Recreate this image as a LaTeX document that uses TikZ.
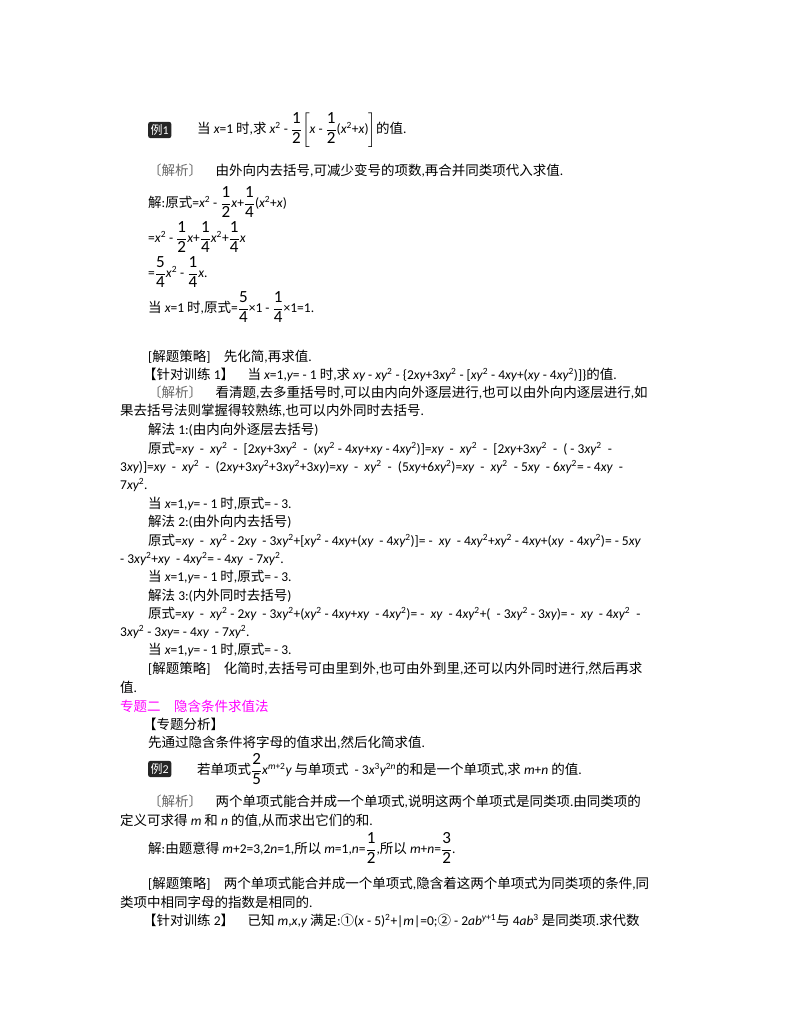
\documentclass[tikz,border=0pt]{standalone}
\usepackage{amsmath}
\usepackage{fontspec}
\setmainfont{Carlito}
\newfontfamily\cjk{Noto Sans CJK SC}
\newfontfamily\latin{Carlito}
\XeTeXinterchartokenstate=1
\newXeTeXintercharclass\CJKclass
\count255="4E00
\loop\XeTeXcharclass\count255=\CJKclass\ifnum\count255<"9FFF\advance\count255 1\repeat
\count255="3000
\loop\XeTeXcharclass\count255=\CJKclass\ifnum\count255<"303F\advance\count255 1\repeat
\count255="FF00
\loop\XeTeXcharclass\count255=\CJKclass\ifnum\count255<"FFEF\advance\count255 1\repeat
\count255="2460
\loop\XeTeXcharclass\count255=\CJKclass\ifnum\count255<"24FF\advance\count255 1\repeat
\XeTeXinterchartoks 0 \CJKclass = {\cjk}
\XeTeXinterchartoks 4095 \CJKclass = {\cjk}
\XeTeXinterchartoks \CJKclass 0 = {\latin}
\XeTeXinterchartoks \CJKclass 4095 = {\latin}
\newcommand\iv[1]{{\itshape #1}}
\newcommand\sq{\textsuperscript{2}}
\newcommand\fr[2]{\ensuremath{\genfrac{}{}{0.5pt}{0}{\hbox{\fontsize{17}{17}\selectfont #1}}{\hbox{\fontsize{17}{17}\selectfont #2}}}}
\definecolor{mag}{HTML}{FF00FF}
\tikzset{t/.style={anchor=west,inner sep=0pt,font=\fontsize{13.5}{16}\selectfont},
badge/.style={fill=black!85,rounded corners=2pt,text=white,inner sep=2.5pt,font=\fontsize{12}{14}\selectfont,anchor=west}}
\begin{document}
\begin{tikzpicture}[x=1pt,y=-1pt]
\useasboundingbox (0,0) rectangle (800,1028);
\node[badge] (b1) at (148,130) {例1};
\node[t] (l1) at (197,130) {当 \iv{x}=1 时,求 \iv{x}\sq\ - \fr{1}{2}$\left[\hbox{\iv{x} - }\fr{1}{2}\hbox{(\iv{x}\sq+\iv{x})}\right]$的值.};
\node[t] (l2) at (148,171) {{\color{black!60}〔解析〕}\quad 由外向内去括号,可减少变号的项数,再合并同类项代入求值.};
\node[t] (l3) at (148,202) {解:原式=\iv{x}\sq\ - \fr{1}{2}\iv{x}+\fr{1}{4}(\iv{x}\sq+\iv{x})};
\node[t] (l4) at (148,237) {=\iv{x}\sq\ - \fr{1}{2}\iv{x}+\fr{1}{4}\iv{x}\sq+\fr{1}{4}\iv{x}};
\node[t] (l5) at (148,272) {=\fr{5}{4}\iv{x}\sq\ - \fr{1}{4}\iv{x}.};
\node[t] (l6) at (148,307) {当 \iv{x}=1 时,原式=\fr{5}{4}×1 - \fr{1}{4}×1=1.};
\node[t] (l7) at (148,357) {[解题策略]\quad 先化简,再求值.};
\node[t] (l8) at (143,375) {【针对训练 1】\quad 当 \iv{x}=1,\iv{y}= - 1 时,求 \iv{xy} - \iv{xy}\sq\ - \{2\iv{xy}+3\iv{xy}\sq\ - [\iv{xy}\sq\ - 4\iv{xy}+(\iv{xy} - 4\iv{xy}\sq)]\}的值.};
\node[t] (l9) at (148,393) {{\color{black!60}〔解析〕}\quad 看清题,去多重括号时,可以由内向外逐层进行,也可以由外向内逐层进行,如};
\node[t] (l10) at (120,411) {果去括号法则掌握得较熟练,也可以内外同时去括号.};
\node[t] (l11) at (148,430) {解法 1:(由内向外逐层去括号)};
\node[t] (l12) at (148,449) {原式=\iv{xy} \ - \ \iv{xy}\sq\ \ - \ [2\iv{xy}+3\iv{xy}\sq\ \ - \ (\iv{xy}\sq\ - 4\iv{xy}+\iv{xy} - 4\iv{xy}\sq)]=\iv{xy} \ - \ \iv{xy}\sq\ \ - \ [2\iv{xy}+3\iv{xy}\sq\ \ - \ ( - 3\iv{xy}\sq\ \ -};
\node[t] (l13) at (120,467) {3\iv{xy})]=\iv{xy} \ - \ \iv{xy}\sq\ \ - \ (2\iv{xy}+3\iv{xy}\sq+3\iv{xy}\sq+3\iv{xy})=\iv{xy} \ - \ \iv{xy}\sq\ \ - \ (5\iv{xy}+6\iv{xy}\sq)=\iv{xy} \ - \ \iv{xy}\sq\ \ - 5\iv{xy} \ - 6\iv{xy}\sq= - 4\iv{xy} \ -};
\node[t] (l14) at (120,485) {7\iv{xy}\sq.};
\node[t] (l15) at (148,504) {当 \iv{x}=1,\iv{y}= - 1 时,原式= - 3.};
\node[t] (l16) at (148,522) {解法 2:(由外向内去括号)};
\node[t] (l17) at (148,541) {原式=\iv{xy} \ - \ \iv{xy}\sq\ - 2\iv{xy} \ - 3\iv{xy}\sq+[\iv{xy}\sq\ - 4\iv{xy}+(\iv{xy} \ - 4\iv{xy}\sq)]= - \ \iv{xy} \ - 4\iv{xy}\sq+\iv{xy}\sq\ - 4\iv{xy}+(\iv{xy} \ - 4\iv{xy}\sq)= - 5\iv{xy}};
\node[t] (l18) at (120,559) { - 3\iv{xy}\sq+\iv{xy} \ - 4\iv{xy}\sq= - 4\iv{xy} \ - 7\iv{xy}\sq.};
\node[t] (l19) at (148,577) {当 \iv{x}=1,\iv{y}= - 1 时,原式= - 3.};
\node[t] (l20) at (148,596) {解法 3:(内外同时去括号)};
\node[t] (l21) at (148,614) {原式=\iv{xy} \ - \ \iv{xy}\sq\ - 2\iv{xy} \ - 3\iv{xy}\sq+(\iv{xy}\sq\ - 4\iv{xy}+\iv{xy} \ - 4\iv{xy}\sq)= - \ \iv{xy} \ - 4\iv{xy}\sq+( \ - 3\iv{xy}\sq\ - 3\iv{xy})= - \ \iv{xy} \ - 4\iv{xy}\sq\ \ -};
\node[t] (l22) at (120,632) {3\iv{xy}\sq\ - 3\iv{xy}= - 4\iv{xy} \ - 7\iv{xy}\sq.};
\node[t] (l23) at (148,650) {当 \iv{x}=1,\iv{y}= - 1 时,原式= - 3.};
\node[t] (l24) at (148,669) {[解题策略]\quad 化简时,去括号可由里到外,也可由外到里,还可以内外同时进行,然后再求};
\node[t] (l25) at (120,687) {值.};
\node[t,text=mag] (l26) at (120,706) {专题二\quad 隐含条件求值法};
\node[t] (l27) at (143,724) {【专题分析】};
\node[t] (l28) at (148,743) {先通过隐含条件将字母的值求出,然后化简求值.};
\node[badge] (b2) at (148,769) {例2};
\node[t] (l29) at (197,769) {若单项式\fr{2}{5}\iv{x}\textsuperscript{\iv{m}+2}\iv{y} 与单项式 \ - 3\iv{x}\textsuperscript{3}\iv{y}\textsuperscript{2\iv{n}}的和是一个单项式,求 \iv{m}+\iv{n} 的值.};
\node[t] (l30) at (148,802) {{\color{black!60}〔解析〕}\quad 两个单项式能合并成一个单项式,说明这两个单项式是同类项.由同类项的};
\node[t] (l31) at (120,821) {定义可求得 \iv{m} 和 \iv{n} 的值,从而求出它们的和.};
\node[t] (l32) at (148,848) {解:由题意得 \iv{m}+2=3,2\iv{n}=1,所以 \iv{m}=1,\iv{n}=\fr{1}{2},所以 \iv{m}+\iv{n}=\fr{3}{2}.};
\node[t] (l33) at (148,884) {[解题策略]\quad 两个单项式能合并成一个单项式,隐含着这两个单项式为同类项的条件,同};
\node[t] (l34) at (120,902) {类项中相同字母的指数是相同的.};
\node[t] (l35) at (143,921) {【针对训练 2】\quad 已知 \iv{m},\iv{x},\iv{y} 满足:①(\iv{x} - 5)\sq+|\iv{m}|=0;② - 2\iv{ab}\textsuperscript{\iv{y}+1}与 4\iv{ab}\textsuperscript{3} 是同类项.求代数};
\end{tikzpicture}
\end{document}
